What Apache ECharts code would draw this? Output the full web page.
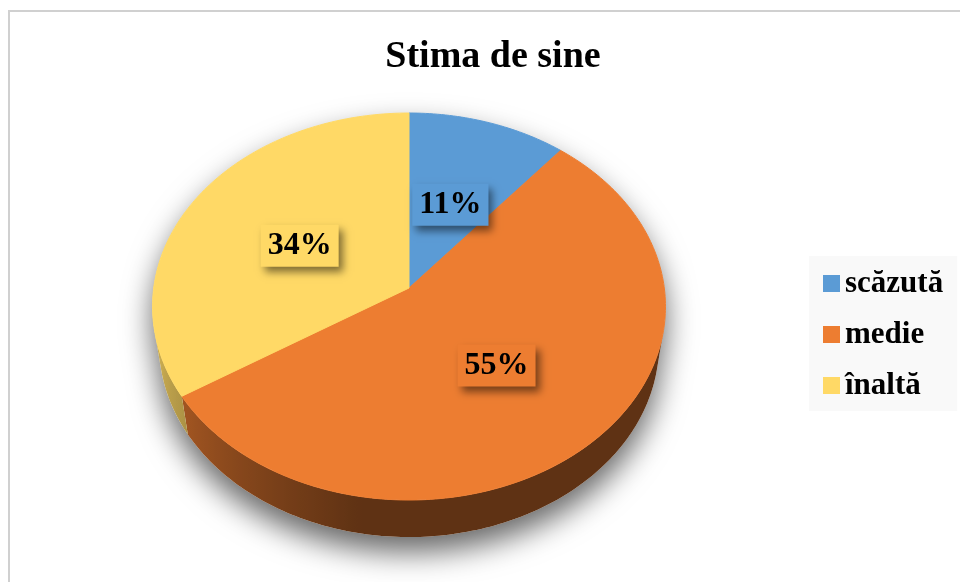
<!DOCTYPE html>
<html>
<head>
<meta charset="utf-8">
<title>Stima de sine</title>
<script src="https://cdn.jsdelivr.net/npm/echarts@6/dist/echarts.min.js"></script>
<style>
  html, body { margin: 0; padding: 0; background: #fff; }
  #chart { width: 960px; height: 582px; }
</style>
</head>
<body>
<div id="chart"></div>
<script>
var categories = ['scăzută', 'medie', 'înaltă'];
var values = [11, 55, 34];
var colors = ['#5B9BD5', '#ED7D31', '#FFD966'];

(function () {
  // perspective view of the disc
  var view = {
    cx: 409,
    cy: 288,
    S: 255.3,
    sinPhi: 0.751,
    cosPhi: 0.660,
    k: 0.145,
    hh: 0.237
  };

  var total = values.reduce(function (a, b) { return a + b; }, 0);
  var TWO_PI = Math.PI * 2;
  // range of the outer wall that faces the camera
  var wallA = Math.acos(-view.k / view.cosPhi);
  var wallB = TWO_PI - wallA;

  function proj(theta, f, hz) {
    var nx = view.S * f * Math.sin(theta);
    var ny = view.S * (f * Math.cos(theta) * view.sinPhi - hz * view.hh * view.cosPhi);
    var den = 1 + view.k * (f * Math.cos(theta) * view.cosPhi + hz * view.hh * view.sinPhi);
    return [view.cx + nx / den, view.cy - ny / den];
  }

  function shade(hex, f) {
    var r = parseInt(hex.substr(1, 2), 16);
    var g = parseInt(hex.substr(3, 2), 16);
    var b = parseInt(hex.substr(5, 2), 16);
    return 'rgb(' + Math.round(r * f) + ',' + Math.round(g * f) + ',' + Math.round(b * f) + ')';
  }

  function light(theta) {
    var d = theta * 180 / Math.PI;
    if (d < 190) return 0.4;
    return 0.4 + 0.4 * Math.min(1, (d - 190) / 70);
  }

  function sliceAngles(i) {
    var before = 0;
    for (var j = 0; j < i; j++) before += values[j];
    var a0 = before / total * TWO_PI;
    return [a0, a0 + values[i] / total * TWO_PI];
  }

  function renderSlice(params, api) {
    var i = params.seriesIndex;
    var ang = sliceAngles(i);
    var color = colors[i];
    var children = [];
    var step = Math.PI / 180;
    var t;

    if (i === 0) {
      // soft shadow under the whole disc
      var sil = [];
      for (t = wallB; t <= wallA + TWO_PI; t += step) sil.push(proj(t, 1, 0));
      for (t = wallA; t <= wallB; t += step) sil.push(proj(t, 1, 1));
      children.push({
        type: 'polygon',
        z2: 1,
        shape: { points: sil },
        style: {
          fill: '#ffffff',
          shadowColor: 'rgba(0,0,0,0.6)',
          shadowBlur: 30,
          shadowOffsetY: 15
        }
      });
    }

    // outer wall, one polygon with a horizontal gradient
    var w0 = Math.max(ang[0], wallA);
    var w1 = Math.min(ang[1], wallB);
    if (w1 > w0) {
      var top = [], bottom = [], samples = [];
      for (t = w0; t < w1; t += step) {
        top.push(proj(t, 1, 0));
        bottom.push(proj(t, 1, 1));
        samples.push(t);
      }
      top.push(proj(w1, 1, 0));
      bottom.push(proj(w1, 1, 1));
      samples.push(w1);
      var xs = bottom.map(function (p) { return p[0]; });
      var xmin = Math.min.apply(null, xs);
      var xmax = Math.max.apply(null, xs);
      var stops = samples.map(function (s, n) {
        return { offset: (xs[n] - xmin) / (xmax - xmin || 1), color: shade(color, light(s)) };
      }).sort(function (a, b) { return a.offset - b.offset; });
      children.push({
        type: 'polygon',
        z2: 5,
        shape: { points: top.concat(bottom.reverse()) },
        style: {
          fill: {
            type: 'linear', global: true,
            x: xmin, y: 0, x2: xmax, y2: 0,
            colorStops: stops
          }
        }
      });
    }

    // top face
    var pts = [proj(0, 0, 0)];
    for (t = ang[0]; t < ang[1]; t += step) pts.push(proj(t, 1, 0));
    pts.push(proj(ang[1], 1, 0));
    children.push({
      type: 'polygon',
      z2: 10,
      shape: { points: pts },
      style: { fill: color, stroke: color, lineWidth: 1 }
    });

    // percentage label
    var lp = proj((ang[0] + ang[1]) / 2, 0.5, 0);
    children.push({
      type: 'text',
      z2: 20,
      x: lp[0],
      y: lp[1] + 3,
      style: {
        text: Math.round(values[i] / total * 100) + '%',
        align: 'center',
        verticalAlign: 'middle',
        font: 'bold 32px "Liberation Serif"',
        fill: '#000',
        backgroundColor: color,
        padding: [5, 7, 5, 7],
        shadowColor: 'rgba(0,0,0,0.5)',
        shadowBlur: 8,
        shadowOffsetX: 4,
        shadowOffsetY: 5
      }
    });

    return { type: 'group', children: children };
  }

  var chart = echarts.init(document.getElementById('chart'));

  var series = categories.map(function (name, i) {
    return {
      type: 'custom',
      name: name,
      coordinateSystem: 'none',
      itemStyle: { color: colors[i] },
      data: [values[i]],
      renderItem: renderSlice
    };
  });

  chart.setOption({
    animation: false,
    title: {
      text: 'Stima de sine',
      left: 488,
      top: 33,
      textAlign: 'center',
      textStyle: {
        fontFamily: 'Liberation Serif',
        fontWeight: 'bold',
        fontSize: 38,
        color: '#000'
      }
    },
    legend: {
      data: categories,
      orient: 'vertical',
      left: 809,
      top: 256,
      backgroundColor: '#f9f9f9',
      padding: [12, 14, 10, 14],
      itemGap: 20,
      itemWidth: 17,
      itemHeight: 17,
      icon: 'rect',
      textStyle: {
        fontFamily: 'Liberation Serif',
        fontWeight: 'bold',
        fontSize: 31,
        color: '#000'
      }
    },
    graphic: [{
      type: 'rect',
      silent: true,
      shape: { x: 9, y: 11, width: 1000, height: 1000 },
      style: { fill: 'none', stroke: '#d0d0d0', lineWidth: 2 }
    }],
    series: series
  });
}());
</script>
</body>
</html>
